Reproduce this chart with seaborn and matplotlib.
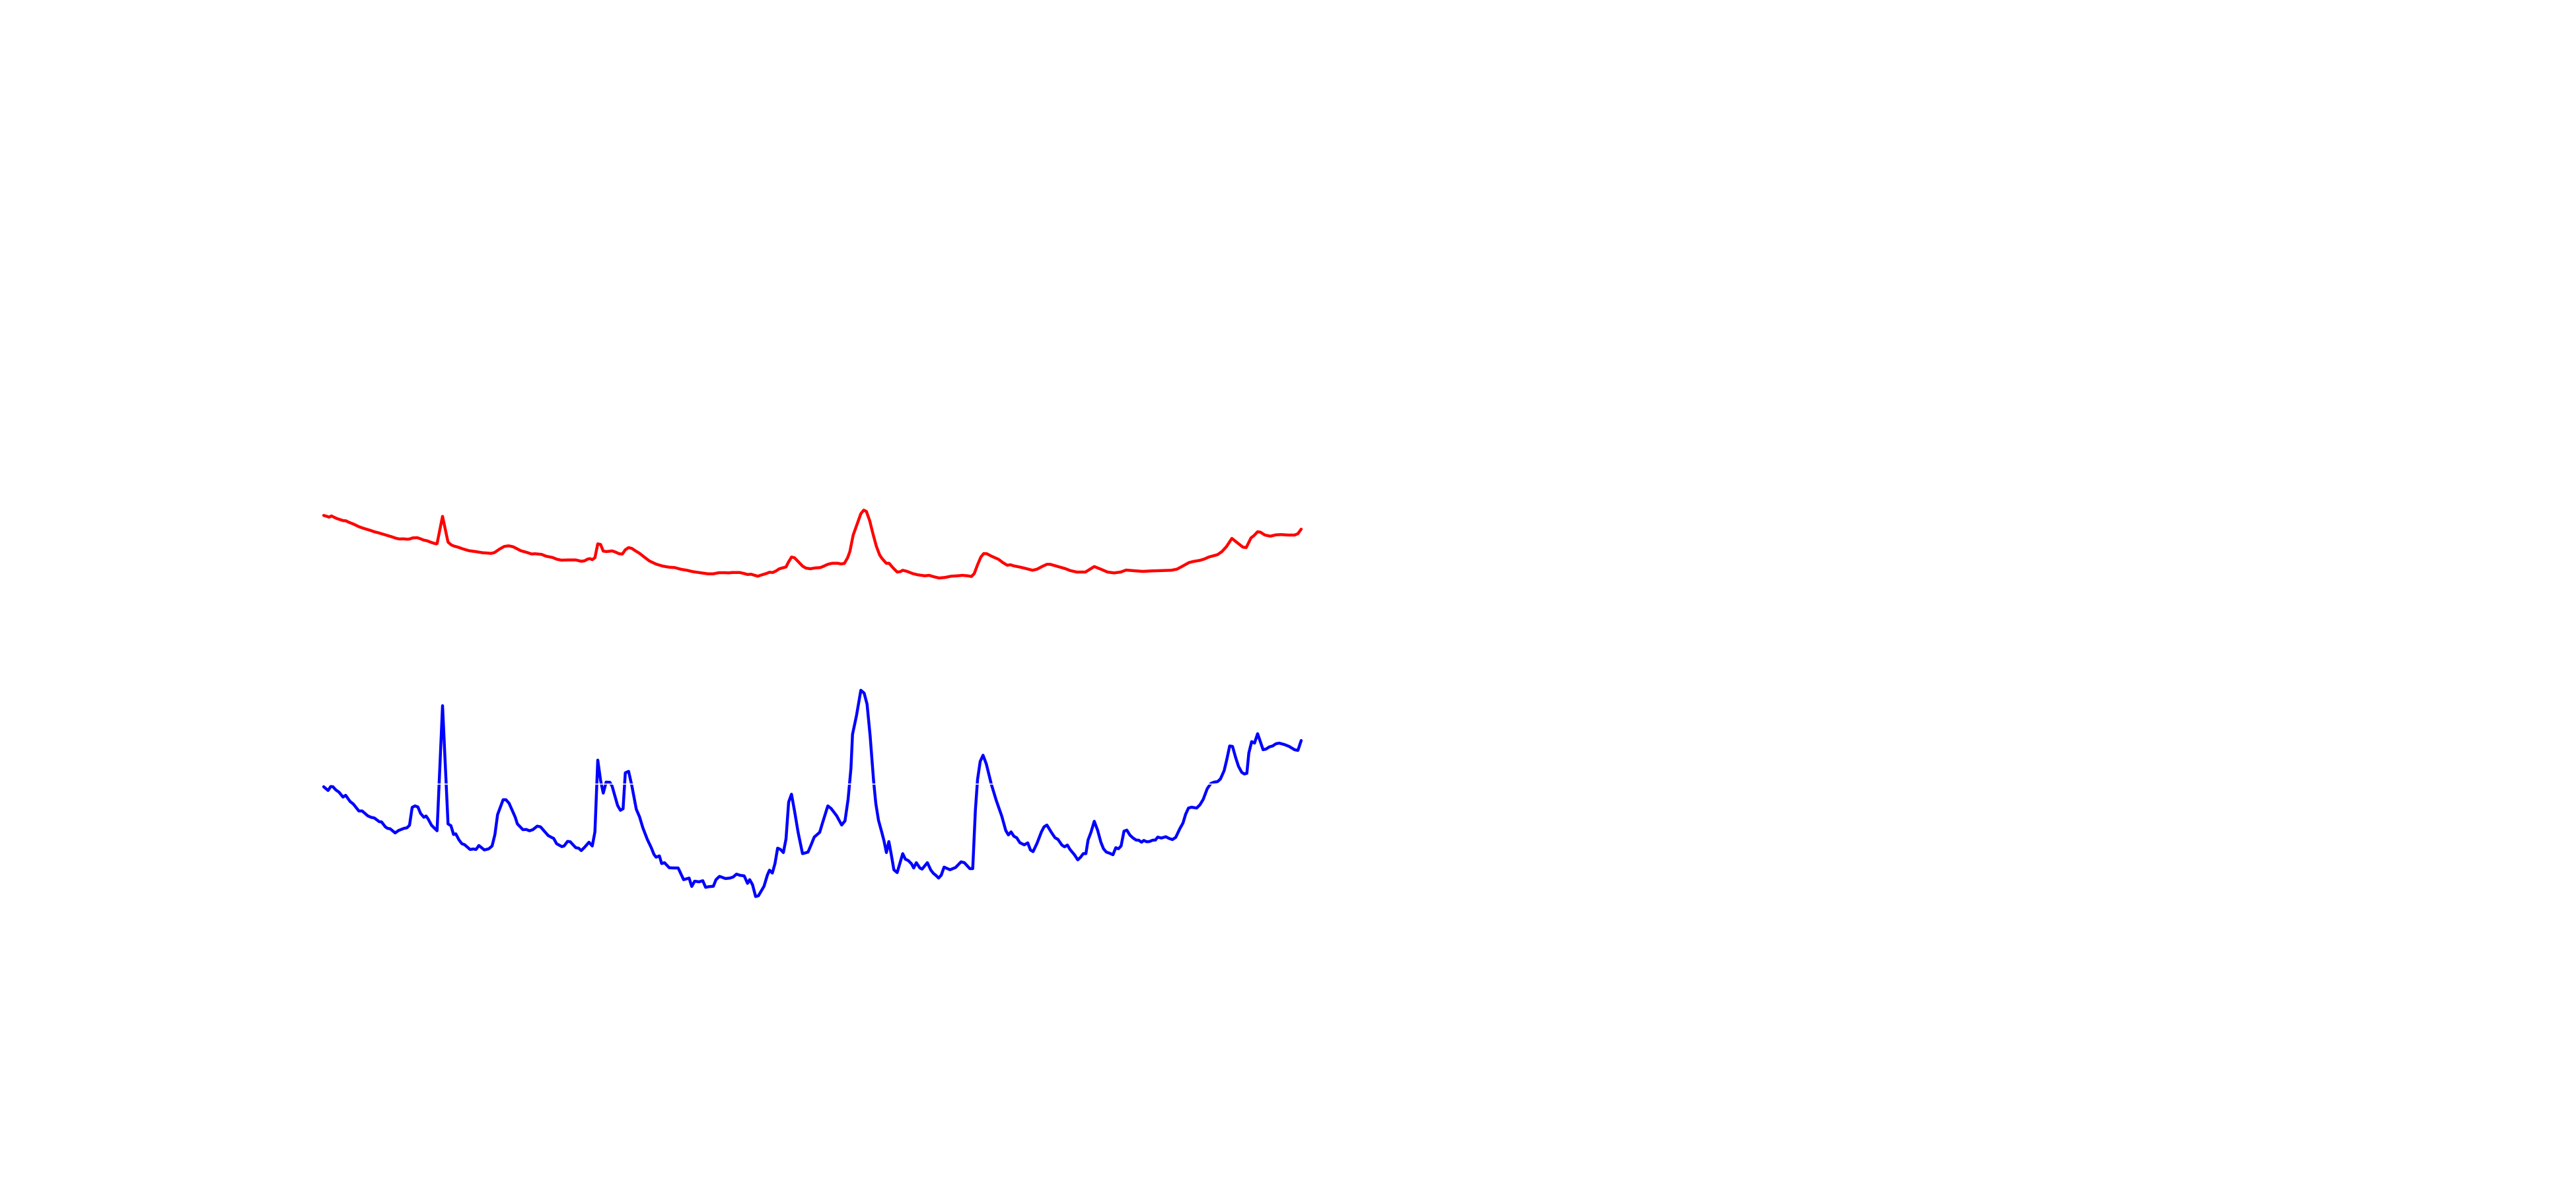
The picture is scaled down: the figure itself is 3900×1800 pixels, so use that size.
import matplotlib
matplotlib.use("Agg")
import matplotlib.pyplot as plt
import seaborn as sns
import pandas as pd

# position (arbitrary units) and intensity (arbitrary units, offset stacked)
red_x = [0, 5, 8.3, 11.7, 15, 20, 25, 30, 33.3, 38.3, 45, 53.3, 60, 70, 76.7, 83.3, 90, 96.7,
         103.3, 110, 115, 120, 126.7, 130, 135, 141.7, 146.7, 151.7, 156.7, 163.3, 170, 171.7,
         180, 188.3, 193.3, 198.3, 203.3, 210, 220, 230, 240, 253.3, 258.3, 266.7, 273.3, 280,
         286.7, 293.3, 298.3, 306.7, 315, 320, 330, 336.7, 346.7, 353.3, 360, 370, 381.7, 390,
         395, 400, 403.3, 406.7, 410.7, 415, 419.3, 423.3, 428.3, 436.7, 441.7, 447.3, 452.3,
         456.7, 461.7, 466.7, 471.7, 478.3, 485, 493.3, 503.3, 513.3, 523.3, 531.7, 541.7, 550,
         558.3, 570, 581.7, 590, 598.3, 608.3, 613.3, 618.3, 630, 636.7, 641.7, 647.3, 651.7,
         657.3, 663.3, 670, 675, 680, 685, 690, 695, 700, 703.3, 708.3, 712.7, 718.3, 725, 730,
         736.7, 745, 751.7, 756.7, 763.3, 770, 778.3, 783.3, 788.3, 793.3, 796.7, 801.7, 808.3,
         813.3, 817.7, 821.7, 826.7, 831.7, 836.7, 841.7, 845, 851.7, 856, 861.7, 868.3, 873.3,
         876.7, 883.3, 891.7, 900, 910, 916.7, 923.3, 931.7, 940, 950, 960, 966.7, 975, 980.7,
         985, 990, 995, 999.3, 1004, 1011.7, 1021.7, 1028.3, 1035, 1040, 1045, 1053.3, 1061.7,
         1073.3, 1080, 1088.3, 1095, 1100, 1111.7, 1123.3, 1130, 1140, 1153.3, 1166.7, 1176.7,
         1186.7, 1196.7, 1206.7, 1215, 1226.7, 1240, 1253.3, 1263.3, 1273.3, 1283.3, 1291.7,
         1300, 1310, 1316.7, 1326.7, 1333.3, 1340, 1353.3, 1360, 1366.7, 1375, 1383.3, 1391.7,
         1396.7, 1404, 1408.3, 1414, 1418.3, 1425, 1433.3, 1441.7, 1450, 1460, 1470, 1475, 1480]
red_y = [406.7, 405.3, 404, 406, 404.3, 402, 400.3, 398.7, 398.7, 396.3, 393.7, 389.7, 387.3,
         384.3, 382, 380.3, 378.3, 376.3, 374.3, 372, 371, 371.3, 370.7, 371, 372.7, 373, 371.3,
         369.3, 368.3, 365.7, 363.7, 364, 405.3, 366.3, 362, 360, 358.7, 356.3, 353.3, 352,
         350.3, 349.3, 350.3, 356, 359.7, 360.7, 359.3, 356, 353.3, 351, 348.3, 348.7, 347.7,
         345, 343, 340.3, 339, 339.3, 339.3, 337.3, 338, 340.7, 341.3, 339.7, 342.7, 363.7,
         362.7, 352.7, 352, 353, 351.3, 348.7, 348.3, 354.7, 358, 356.7, 353.3, 349.3, 344,
         337.7, 333, 330, 328.3, 327.7, 325, 323.7, 321.7, 320, 318.3, 318.3, 320, 320, 319.7,
         320.3, 320.3, 318.7, 317.3, 317.7, 316.3, 314.7, 316.7, 318.7, 320.7, 320.3, 322.7,
         326, 327.3, 328.7, 335.3, 343.7, 342.7, 337, 330, 327, 326, 327.3, 327.7, 329.7, 332.7,
         334.3, 334.3, 333.3, 334, 342.7, 352, 377, 395.3, 409.3, 414.7, 412.7, 398.7, 378.7,
         360.3, 347, 342, 334.3, 334.3, 327.7, 321, 321.7, 323.7, 322, 318.7, 316.7, 315.3, 316,
         314, 312, 312.7, 314.7, 315.3, 316, 315.3, 314.3, 318.7, 332, 343.7, 349, 348.7, 344.7,
         340.3, 335.3, 331.3, 332, 330.3, 328.7, 326.7, 323.7, 325.3, 329.7, 332.7, 332.7,
         329.3, 326, 323.3, 321, 321, 329.3, 325.3, 321, 319.7, 321, 324, 323, 322, 322.7, 323,
         323.3, 323.7, 325.3, 329.7, 335.3, 337, 338.7, 340.7, 343.7, 347.3, 352, 359.3, 372,
         365.3, 358.7, 358, 372.7, 376, 382, 381.3, 377, 375.3, 377.3, 377.7, 377, 377, 379, 386]

blue_x = [0, 6.7, 10.7, 14, 18.3, 23.3, 29.3, 33.3, 40, 45, 53.3, 58.3, 66.7, 71.7, 76.7, 84.3,
          87.7, 93.3, 96.7, 100.7, 108.3, 113.3, 121.7, 126, 130, 134, 138.3, 142.7, 146.7,
          151.7, 155, 158.3, 163.3, 171.7, 180, 188.3, 192.7, 196.7, 200, 205, 209.3, 213.3,
          221.7, 226.7, 230.7, 235, 243.3, 250, 255, 259.3, 263.3, 271.7, 276, 280.7, 290,
          293.3, 301.7, 306.7, 311.7, 316.7, 323.3, 328.3, 332.7, 340, 345, 348.3, 352.7, 360.7,
          364, 369.3, 373.3, 381.7, 386, 390, 395, 401.7, 406.7, 410.7, 415, 419.3, 423.3, 427.7,
          433.3, 436.7, 445, 449.3, 453.3, 456.7, 461.7, 466.7, 473.3, 478.3, 483.3, 490, 496,
          500, 503.3, 508.3, 511.7, 516, 523.3, 530, 536.7, 545, 553.3, 557.3, 561.7, 568.3, 574,
          578.3, 583.3, 590, 594, 599.3, 608.3, 615, 620, 625, 630, 636.7, 641.7, 645, 649.3,
          654, 658.3, 666.7, 671.7, 675, 679.3, 683.3, 687.3, 691.7, 696, 700, 704, 708.3, 713.3,
          718.3, 725, 733.3, 738.3, 742.7, 751, 755, 763.3, 768.3, 776.7, 784.3, 789.3, 794,
          798.3, 800.7, 806.7, 813.3, 818.3, 822.7, 827.3, 832.7, 836, 840, 845, 848.3, 852,
          855.7, 859.3, 863.3, 868.3, 872.7, 876.7, 880.7, 885, 890, 893.3, 897.3, 902.7, 906,
          914, 919.3, 923.3, 926.7, 931, 935, 939.3, 948.3, 956.7, 965, 970, 978.3, 982.7, 986.7,
          990, 994, 998.3, 1003.3, 1010.7, 1018.3, 1026.7, 1032.7, 1036.7, 1040.7, 1045, 1049.3,
          1054, 1060.7, 1066, 1070, 1074, 1080, 1086.7, 1090.7, 1095, 1101.7, 1107.3, 1111.7,
          1117.7, 1121.7, 1126, 1130, 1136.7, 1141.7, 1146, 1150, 1154, 1157.3, 1161.7, 1166.7,
          1171.7, 1176.7, 1180.7, 1185, 1190, 1195, 1199.3, 1203.3, 1207.3, 1211.7, 1216, 1220.7,
          1225, 1230, 1234, 1238.3, 1241.7, 1246, 1250, 1255, 1259.3, 1262.7, 1268.3, 1275, 1280,
          1285, 1290, 1296, 1301, 1305, 1309.3, 1314, 1321.7, 1326.7, 1331.7, 1337.7, 1343.3,
          1348.3, 1353.3, 1357.7, 1363.3, 1367.3, 1371.7, 1376, 1380.7, 1385, 1390, 1394, 1397.7,
          1400.7, 1405, 1409.3, 1414, 1422.3, 1426.7, 1431.7, 1436.7, 1441.7, 1446.7, 1455,
          1461.7, 1470, 1475, 1480]
blue_y = [-4, -9.7, -3.7, -4, -8.7, -12.3, -19.7, -17, -26.3, -30.3, -40.7, -40.7, -48, -50.3,
          -51.3, -57, -57.3, -64.7, -67, -67.7, -74, -70.3, -67, -66.3, -62.3, -35.3, -33, -34.7,
          -44.3, -50.3, -48.3, -53, -62.3, -70.7, 118.7, -60.3, -63, -76.3, -75.3, -84.7, -90.3,
          -91.7, -99, -98.3, -99, -93, -99.7, -98, -93.7, -76.3, -46.3, -23.7, -23.7, -29, -50,
          -60.3, -69, -68.7, -70.7, -69, -63.7, -64.7, -69.7, -78, -80.7, -82.3, -90.3, -94.7,
          -93.7, -86.7, -87.3, -96.3, -97, -100.7, -95.7, -88, -93.7, -72.3, 36.3, 5.3, -13.7, 3,
          2.7, -3, -32.3, -39.7, -37.3, 17, 19.3, -3, -38, -49.7, -66.3, -83.7, -96.3, -106.3,
          -110.7, -108.7, -120.3, -119, -126.7, -127, -127, -144.7, -142.3, -155, -147, -148,
          -146.3, -156.3, -155.3, -154.7, -144.7, -139.7, -143, -142.3, -140.7, -136.3, -138,
          -139, -150.3, -144.7, -152.3, -170.3, -169, -154.7, -138, -130.3, -134.7, -120.3, -97,
          -99, -103.7, -83, -27.3, -15.3, -43, -73, -105.3, -103, -91.3, -80.3, -73, -59.7, -33,
          -37, -48, -62, -55.7, -23, 23.7, 75.3, 103.7, 142, 137.7, 121, 73.7, 3.7, -29.7, -54.7,
          -73, -85.7, -103.7, -87, -106.3, -129.7, -134, -119, -105.3, -113.7, -115.7, -120.7,
          -127, -119, -127, -128.7, -119, -130.3, -135.3, -138, -142.3, -138, -125.7, -129.7,
          -126.3, -117.7, -119, -128, -128, -39.7, 7, 34.3, 43.7, 30.3, 0.3, -24.7, -48.7, -70.3,
          -77, -72.3, -79, -81.3, -88.7, -92, -89, -99.7, -102.3, -89.7, -72.3, -64.7, -62, -73,
          -81.3, -83.7, -92.3, -95, -92.3, -99, -107, -114.7, -110.7, -105.3, -105.3, -84.7, -73,
          -56.3, -69.7, -88, -98, -103, -104.7, -107, -96.3, -98, -93.7, -71.3, -69.7, -77.3,
          -81.3, -84.7, -85, -88, -85.3, -87.3, -87, -85, -84.7, -80.3, -81.7, -79.7, -82.3, -84,
          -80.7, -68, -59, -45.7, -36.3, -35, -36.3, -31.3, -23, -7, 1, 3, 3.7, 7.7, 20.3, 37,
          57.7, 57, 40.3, 27, 17.7, 15.3, 16.3, 47, 64.3, 62, 76.3, 52, 53, 56.3, 57.7, 61, 62,
          59.7, 57, 52, 51, 66]

grid_level = 0

sns.set_style("white")
fig = plt.figure(figsize=(39, 18), dpi=100)
ax = fig.add_axes([0, 0, 1, 1])

df_red = pd.DataFrame({"x": red_x, "y": red_y})
df_blue = pd.DataFrame({"x": blue_x, "y": blue_y})
sns.lineplot(data=df_red, x="x", y="y", color="#ff0000", lw=3.2, estimator=None, sort=False, ax=ax)
sns.lineplot(data=df_blue, x="x", y="y", color="#0000ff", lw=3.2, estimator=None, sort=False, ax=ax)
ax.axhline(grid_level, color="white", lw=1.1, zorder=5)

ax.set_xlim(-490, 3900 - 490)
ax.set_ylim(1187 - 1800, 1187)
ax.set_axis_off()

fig.savefig("out.png", dpi=100, facecolor="white")
